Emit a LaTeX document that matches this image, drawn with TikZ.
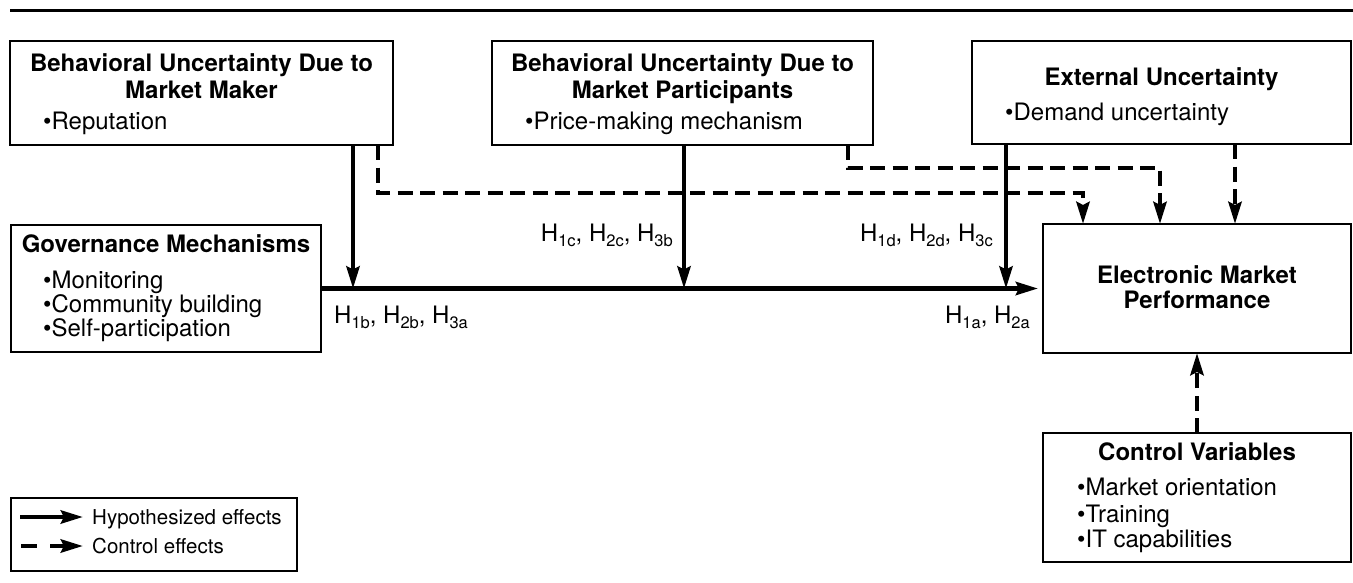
\documentclass[tikz,border=0pt]{standalone}
\usepackage{fontspec}
\setmainfont{TeX Gyre Heros}
\usetikzlibrary{arrows.meta}
\newcommand\Hs[1]{H\raisebox{-5.5pt}{\fontsize{16.5}{16}\selectfont #1}}
\begin{document}
\begin{tikzpicture}[x=1pt,y=-1pt,
  box/.style={draw, line width=2.5pt, inner sep=0pt, outer sep=0pt, anchor=north west},
  ttl/.style={font=\bfseries\fontsize{24}{24}\selectfont, inner sep=0pt, anchor=base},
  txt/.style={font=\fontsize{24}{24}\selectfont, inner sep=0pt, anchor=base west},
  lab/.style={font=\fontsize{24}{24}\selectfont, inner sep=0pt},
  legt/.style={font=\fontsize{20.5}{20}\selectfont, inner sep=0pt, anchor=base west},
  hyp/.style={line width=4.5pt, -{Stealth[length=22pt,width=13pt,inset=3pt]}},
  ctl/.style={hyp, dash pattern=on 15pt off 7.5pt}]
\useasboundingbox (0,0) rectangle (1353,582);
% top rule
\draw[line width=3pt] (10,10) -- (1353,10);
% boxes
\node[box, minimum width=383pt, minimum height=104pt] (b1) at (10,41) {};
\node[box, minimum width=381pt, minimum height=104pt] (b2) at (492,41) {};
\node[box, minimum width=379pt, minimum height=103pt] (b3) at (972,41) {};
\node[box, minimum width=310pt, minimum height=127pt] (gov) at (11,225) {};
\node[box, minimum width=308pt, minimum height=129pt] (emp) at (1043,224) {};
\node[box, minimum width=308pt, minimum height=129pt] (cv) at (1043,433) {};
\node[box, minimum width=286pt, minimum height=73pt] (leg) at (11,498) {};
% box texts
\node[ttl] (b1t1) at (201.5,71) {Behavioral Uncertainty Due to};
\node[ttl] (b1t2) at (201.5,98) {Market Maker};
\node[txt] (b1i) at (43,129) {•Reputation};
\node[ttl] (b2t1) at (682.5,71) {Behavioral Uncertainty Due to};
\node[ttl] (b2t2) at (682.5,98) {Market Participants};
\node[txt] (b2i) at (525,129) {•Price-making mechanism};
\node[ttl] (b3t1) at (1161.5,85) {External Uncertainty};
\node[txt] (b3i) at (1005,120) {•Demand uncertainty};
\node[ttl] (gt) at (166,252) {Governance Mechanisms};
\node[txt] (g1) at (43,288) {•Monitoring};
\node[txt] (g2) at (43,312) {•Community building};
\node[txt] (g3) at (43,336) {•Self-participation};
\node[ttl] (et1) at (1197,283) {Electronic Market};
\node[ttl] (et2) at (1197,308) {Performance};
\node[ttl] (ct) at (1197,460) {Control Variables};
\node[txt] (c1) at (1077,495) {•Market orientation};
\node[txt] (c2) at (1077,522) {•Training};
\node[txt] (c3) at (1077,547) {•IT capabilities};
% hypothesis labels
\node[lab, anchor=base west] (h1) at (334,323) {\Hs{1b}, \Hs{2b}, \Hs{3a}};
\node[lab, anchor=base east] (h2) at (673,241) {\Hs{1c}, \Hs{2c}, \Hs{3b}};
\node[lab, anchor=base east] (h3) at (993,241) {\Hs{1d}, \Hs{2d}, \Hs{3c}};
\node[lab, anchor=base east] (h4) at (1030,323) {\Hs{1a}, \Hs{2a}};
% coordinates
\coordinate (x1) at (353,0);
\coordinate (x2) at (684,0);
\coordinate (x3) at (1006,0);
\coordinate (k1) at (378,193);
\coordinate (k2) at (1083,193);
\coordinate (k3) at (848,168);
\coordinate (k4) at (1160,168);
\coordinate (k5) at (1235,0);
% hypothesized effects
\draw[hyp, shorten >=5pt] (gov.east) -- (emp.west);
\draw[hyp] (b1.south -| x1) -- (gov.east -| x1);
\draw[hyp] (b2.south -| x2) -- (gov.east -| x2);
\draw[hyp] (b3.south -| x3) -- (gov.east -| x3);
% control effects
\draw[ctl] (b1.south -| k1) -- (k1) -- (k2) -- (emp.north -| k2);
\draw[ctl] (b2.south -| k3) -- (k3) -- (k4) -- (emp.north -| k4);
\draw[ctl] (b3.south -| k5) -- (emp.north -| k5);
\draw[ctl] (cv.north) -- (emp.south);
% legend
\coordinate (l1a) at (20,517);
\coordinate (l1b) at (83,517);
\coordinate (l2a) at (21,546);
\coordinate (l2b) at (83,546);
\draw[hyp] (l1a) -- (l1b);
\draw[hyp, dash pattern=on 16pt off 13pt on 100pt] (l2a) -- (l2b);
\node[legt] (lt1) at (92,524.5) {Hypothesized effects};
\node[legt] (lt2) at (92,553.5) {Control effects};
\end{tikzpicture}
\end{document}
